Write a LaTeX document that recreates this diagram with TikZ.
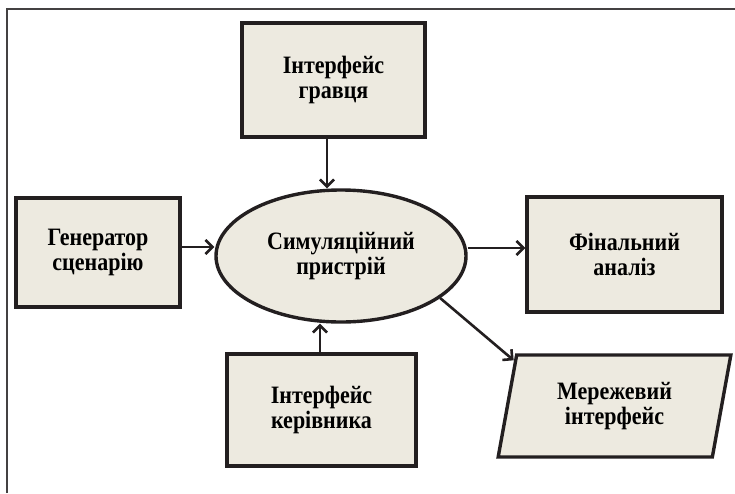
\documentclass[tikz,border=0pt]{standalone}
\usepackage{fontspec}
\setmainfont{Liberation Serif}[FakeStretch=0.88]
\usetikzlibrary{shapes.geometric,arrows.meta}
\definecolor{blockfill}{RGB}{237,234,224}
\definecolor{blockline}{RGB}{35,31,32}
\tikzset{
  block/.style={draw=blockline, line width=3.4pt, fill=blockfill, align=center,
    font=\bfseries\fontsize{25}{24.5}\selectfont, inner sep=0pt},
  link/.style={draw=blockline, line width=2.6pt, -{Straight Barb[length=7pt,width=14pt]}}
}
\begin{document}
\begin{tikzpicture}[x=1pt,y=-1pt]
      \useasboundingbox (0,0) rectangle (735,493);
      \draw[blockline!85, line width=1.5pt] (7,493) -- (7,9) -- (735,9);
      \node[block, minimum width=183pt, minimum height=114pt] (player) at (333.5,80) {Інтерфейс\\гравця};
      \node[block, minimum width=164pt, minimum height=109pt] (gen) at (98,252.5) {Генератор\\сценарію};
      \node[block, ellipse, minimum width=250pt, minimum height=132pt] (sim) at (341,256) {Симуляційний\\пристрій};
      \node[block, minimum width=195pt, minimum height=115pt] (final) at (624.5,254.5) {Фінальний\\аналіз};
      \node[block, minimum width=189pt, minimum height=112pt] (admin) at (321.5,410) {Інтерфейс\\керівника};
      \node[block, trapezium, trapezium left angle=77, trapezium right angle=103,
        trapezium stretches=true, minimum width=233pt, minimum height=102pt] (net) at (614.5,406) {Мережевий\\інтерфейс};
      \begin{scope}[link]
        \draw ([xshift=-6.5pt]player.south) -- ([xshift=-6.5pt]player.south |- sim.north);
        \draw ([yshift=5.5pt]gen.east) -- ([yshift=5.5pt]gen.east -| sim.west);
        \draw ([yshift=8pt]sim.east) -- ([yshift=8pt]sim.east -| final.west);
        \draw ([xshift=-1.5pt]admin.north) -- ([xshift=-1.5pt]admin.north |- sim.south);
        \draw (sim.-23.4) -- ([xshift=-1.6pt,yshift=-7pt]net.top left corner);
      \end{scope}
\end{tikzpicture}
\end{document}
